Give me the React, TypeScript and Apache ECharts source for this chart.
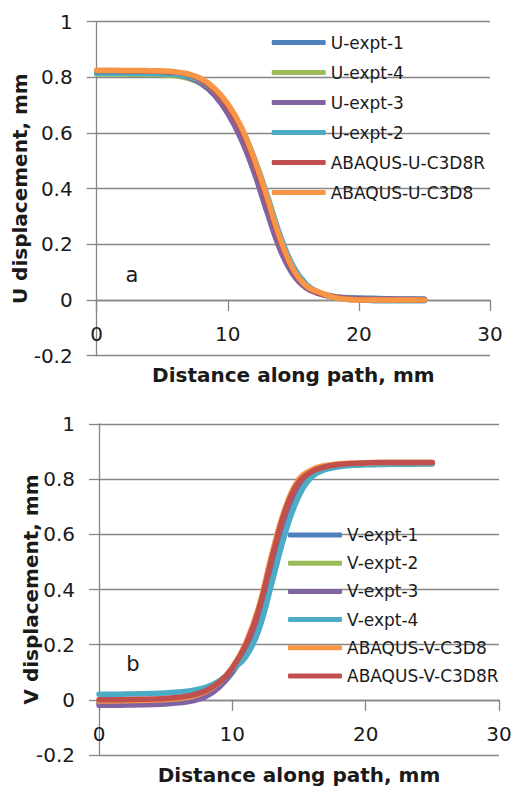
import React, { useEffect, useRef } from "react";
import * as echarts from "echarts";

const distance = [0, 1, 2, 3, 4, 5, 6, 7, 8, 9, 10, 11, 12, 13, 14, 15, 16, 17, 18, 19, 20, 21, 22, 23, 24, 25];

const uExpt1 = [0.818, 0.818, 0.817, 0.817, 0.816, 0.815, 0.811, 0.802, 0.782, 0.742, 0.683, 0.598, 0.48, 0.338, 0.197, 0.098, 0.046, 0.025, 0.014, 0.009, 0.007, 0.006, 0.005, 0.004, 0.004, 0.003];
const uExpt4 = [0.812, 0.812, 0.812, 0.811, 0.811, 0.81, 0.806, 0.796, 0.776, 0.737, 0.678, 0.594, 0.478, 0.338, 0.2, 0.1, 0.047, 0.025, 0.013, 0.007, 0.004, 0.003, 0.002, 0.002, 0.001, 0.001];
const uExpt3 = [0.82, 0.82, 0.819, 0.819, 0.818, 0.816, 0.811, 0.8, 0.778, 0.735, 0.67, 0.58, 0.46, 0.315, 0.18, 0.09, 0.042, 0.022, 0.012, 0.007, 0.005, 0.004, 0.004, 0.003, 0.003, 0.003];
const uExpt2 = [0.815, 0.815, 0.815, 0.814, 0.814, 0.813, 0.81, 0.803, 0.786, 0.75, 0.698, 0.622, 0.512, 0.378, 0.232, 0.12, 0.056, 0.026, 0.01, 0.003, 0, -0.002, -0.003, -0.003, -0.003, -0.003];
const uC3D8R = [0.824, 0.824, 0.823, 0.823, 0.822, 0.821, 0.818, 0.81, 0.79, 0.752, 0.695, 0.612, 0.495, 0.355, 0.21, 0.105, 0.048, 0.024, 0.012, 0.005, 0.002, 0.001, 0, 0, 0, 0];
const uC3D8 = [0.826, 0.826, 0.825, 0.825, 0.824, 0.823, 0.82, 0.812, 0.795, 0.76, 0.705, 0.625, 0.51, 0.37, 0.22, 0.11, 0.05, 0.028, 0.01, 0.003, 0, 0, 0, 0, 0, 0];

const vExpt1 = [-0.01, -0.01, -0.009, -0.008, -0.007, -0.005, -0.002, 0.005, 0.02, 0.05, 0.1, 0.18, 0.305, 0.49, 0.66, 0.77, 0.82, 0.84, 0.849, 0.853, 0.855, 0.856, 0.856, 0.857, 0.857, 0.857];
const vExpt2 = [-0.006, -0.006, -0.005, -0.004, -0.003, -0.001, 0.002, 0.009, 0.024, 0.055, 0.105, 0.185, 0.31, 0.495, 0.665, 0.775, 0.823, 0.842, 0.85, 0.854, 0.856, 0.857, 0.857, 0.858, 0.858, 0.858];
const vExpt3 = [-0.02, -0.02, -0.019, -0.018, -0.017, -0.015, -0.011, -0.004, 0.012, 0.045, 0.1, 0.18, 0.31, 0.5, 0.67, 0.78, 0.825, 0.843, 0.851, 0.855, 0.857, 0.858, 0.858, 0.858, 0.858, 0.858];
const vExpt4 = [0.02, 0.02, 0.021, 0.022, 0.023, 0.025, 0.028, 0.034, 0.045, 0.068, 0.11, 0.155, 0.255, 0.43, 0.61, 0.74, 0.81, 0.835, 0.845, 0.85, 0.852, 0.853, 0.854, 0.854, 0.855, 0.855];
const vC3D8 = [-0.004, -0.004, -0.003, -0.002, -0.001, 0.001, 0.005, 0.013, 0.03, 0.062, 0.118, 0.205, 0.34, 0.535, 0.7, 0.8, 0.835, 0.85, 0.856, 0.858, 0.859, 0.86, 0.86, 0.86, 0.86, 0.86];
const vC3D8R = [0, 0, 0.001, 0.002, 0.003, 0.005, 0.009, 0.017, 0.033, 0.063, 0.115, 0.198, 0.33, 0.52, 0.69, 0.79, 0.828, 0.845, 0.853, 0.857, 0.859, 0.86, 0.86, 0.86, 0.86, 0.86];

const uNames = ["U-expt-1", "U-expt-4", "U-expt-3", "U-expt-2", "ABAQUS-U-C3D8R", "ABAQUS-U-C3D8"];
const uSeries = [uExpt1, uExpt4, uExpt3, uExpt2, uC3D8R, uC3D8];
const uColors = ["#4F81BD", "#9BBB59", "#8064A2", "#4BACC6", "#C0504D", "#F79646"];

const vNames = ["V-expt-1", "V-expt-2", "V-expt-3", "V-expt-4", "ABAQUS-V-C3D8", "ABAQUS-V-C3D8R"];
const vSeries = [vExpt1, vExpt2, vExpt3, vExpt4, vC3D8, vC3D8R];
const vColors = ["#4F81BD", "#9BBB59", "#8064A2", "#4BACC6", "#F79646", "#C0504D"];

const yTicks = { min: -0.2, max: 1, interval: 0.2 };
const xTicks = { min: 0, max: 30, interval: 10 };

const FONT = "DejaVu Sans";
const TXT = "#1a1a1a";
const AX = "#868686";

export default function App() {
  const ref = useRef<HTMLDivElement>(null);
  useEffect(() => {
    const chart = echarts.init(ref.current!, null, { renderer: "svg" });
    const xAxisBase = (gridIndex: number, name: string, labelMargin: number, gap: number) => ({
      type: "value",
      gridIndex,
      min: xTicks.min,
      max: xTicks.max,
      interval: xTicks.interval,
      name,
      nameLocation: "middle",
      nameGap: gap,
      nameMoveOverlap: false,
      nameTextStyle: { fontFamily: FONT, fontWeight: "bold", fontSize: 20, color: TXT },
      axisLine: { onZero: true, lineStyle: { color: AX, width: 1.3 } },
      axisTick: { show: true, length: 11, lineStyle: { color: AX, width: 1.3 } },
      axisLabel: { margin: labelMargin, fontFamily: FONT, fontSize: 20, color: TXT },
      splitLine: { show: false },
    });
    const yAxisBase = (gridIndex: number) => ({
      type: "value",
      gridIndex,
      min: yTicks.min,
      max: yTicks.max,
      interval: yTicks.interval,
      axisLine: { show: true, onZero: false, lineStyle: { color: AX, width: 1.3 } },
      axisTick: { show: true, length: 10, lineStyle: { color: AX, width: 1.3 } },
      axisLabel: {
        margin: 24,
        fontFamily: FONT,
        fontSize: 20,
        color: TXT,
        formatter: (v: number) => String(Math.round(v * 10) / 10),
      },
      splitLine: { show: true, lineStyle: { color: AX, width: 1.3 } },
    });
    const mk = (names: string[], data: number[][], colors: string[], idx: number) =>
      names.map((n, i) => ({
        name: n,
        type: "line",
        xAxisIndex: idx,
        yAxisIndex: idx,
        data: distance.map((d, j) => [d, data[i][j]]),
        showSymbol: false,
        symbol: "none",
        smooth: 0.4,
        color: colors[i],
        lineStyle: { width: 5.5, color: colors[i], cap: "round", join: "round" },
      }));
    const legendBase = {
      orient: "vertical",
      align: "left",
      icon: "roundRect",
      padding: 0,
      itemWidth: 54,
      itemHeight: 5,
      textStyle: { fontFamily: FONT, fontSize: 17, color: TXT, lineHeight: 20 },
    };
    const titleStyle = { fontFamily: FONT, fontWeight: "bold", fontSize: 20, fill: TXT, align: "center", verticalAlign: "middle" };
    chart.setOption({
      animation: false,
      grid: [
        { left: 96.7, top: 21.7, width: 393.3, height: 334, containLabel: false, outerBoundsMode: "none" },
        { left: 99, top: 424, width: 400, height: 331, containLabel: false, outerBoundsMode: "none" },
      ],
      xAxis: [
        xAxisBase(0, "Distance along path, mm", -32, 9),
        xAxisBase(1, "Distance along path, mm", -31, 10),
      ],
      yAxis: [yAxisBase(0), yAxisBase(1)],
      legend: [
        { ...legendBase, left: 271.7, top: 32.5, itemGap: 10, data: uNames },
        { ...legendBase, left: 288, top: 525, itemGap: 8.2, data: vNames },
      ],
      graphic: [
        { type: "text", z: 100, x: 20, y: 188.7, rotation: Math.PI / 2, style: { ...titleStyle, text: "U displacement, mm" } },
        { type: "text", z: 100, x: 31, y: 589.5, rotation: Math.PI / 2, style: { ...titleStyle, text: "V displacement, mm" } },
        { type: "text", z: 100, x: 132, y: 275, style: { text: "a", fontFamily: FONT, fontSize: 21, fill: TXT, align: "center", verticalAlign: "middle" } },
        { type: "text", z: 100, x: 133, y: 664, style: { text: "b", fontFamily: FONT, fontSize: 21, fill: TXT, align: "center", verticalAlign: "middle" } },
      ],
      series: [...mk(uNames, uSeries, uColors, 0), ...mk(vNames, vSeries, vColors, 1)],
    });
    return () => chart.dispose();
  }, []);
  return (
    <div
      ref={ref}
      style={{ position: "fixed", left: 0, top: 0, width: 514, height: 792, background: "#fff" }}
    />
  );
}
